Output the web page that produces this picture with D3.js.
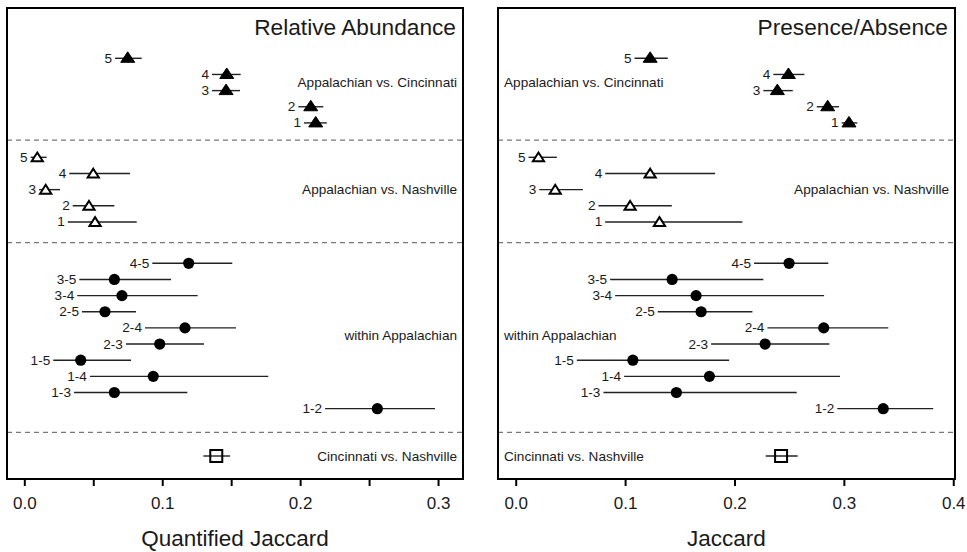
<!DOCTYPE html>
<html>
<head>
<meta charset="utf-8">
<script src="https://cdn.jsdelivr.net/npm/d3@7"></script>
<style>
  body { margin: 0; background: #fff; }
  text { font-family: "Liberation Sans", Arial, Helvetica, sans-serif; fill: #1a1a1a; }
</style>
</head>
<body>
<div id="chart"></div>
<script>
const width = 967, height = 552;

// groups, top to bottom
const groupNames = ["Appalachian vs. Cincinnati", "Appalachian vs. Nashville", "within Appalachian", "Cincinnati vs. Nashville"];
const rowLabels = ["5", "4", "3", "2", "1",
                   "5", "4", "3", "2", "1",
                   "4-5", "3-5", "3-4", "2-5", "2-4", "2-3", "1-5", "1-4", "1-3", "1-2",
                   ""];
const rowGroup = [0, 0, 0, 0, 0, 1, 1, 1, 1, 1, 2, 2, 2, 2, 2, 2, 2, 2, 2, 2, 3];

// Relative Abundance (Quantified Jaccard)
const raEst = [0.0750, 0.1468, 0.1463, 0.2077, 0.2113,
               0.0094, 0.0500, 0.0155, 0.0469, 0.0513,
               0.1192, 0.0653, 0.0708, 0.0585, 0.1165, 0.0982, 0.0409, 0.0935, 0.0653, 0.2560,
               0.1392];
const raLow = [0.0658, 0.1361, 0.1361, 0.1987, 0.2028,
               0.0046, 0.0326, 0.0107, 0.0351, 0.0315,
               0.0928, 0.0399, 0.0384, 0.0418, 0.0875, 0.0737, 0.0210, 0.0476, 0.0360, 0.2181,
               0.1298];
const raHigh = [0.0851, 0.1569, 0.1564, 0.2168, 0.2193,
                0.0162, 0.0767, 0.0259, 0.0653, 0.0815,
                0.1508, 0.1064, 0.1257, 0.0810, 0.1535, 0.1303, 0.0774, 0.1769, 0.1182, 0.2978,
                0.1492];

// Presence/Absence (Jaccard)
const paEst = [0.1229, 0.2493, 0.2392, 0.2852, 0.3047,
               0.0208, 0.1229, 0.0361, 0.1046, 0.1314,
               0.2499, 0.1430, 0.1649, 0.1695, 0.2816, 0.2280, 0.1071, 0.1771, 0.1469, 0.3360,
               0.2426];
const paLow = [0.1086, 0.2355, 0.2264, 0.2752, 0.2980,
               0.0117, 0.0818, 0.0215, 0.0757, 0.0818,
               0.2179, 0.0863, 0.0909, 0.1299, 0.2301, 0.1786, 0.0559, 0.0991, 0.0802, 0.2940,
               0.2286];
const paHigh = [0.1390, 0.2639, 0.2533, 0.2956, 0.3123,
                0.0376, 0.1823, 0.0614, 0.1427, 0.2072,
                0.2858, 0.2264, 0.2819, 0.2164, 0.3406, 0.2867, 0.1951, 0.2965, 0.2569, 0.3817,
                0.2578];

const raTicks = [0, 0.05, 0.1, 0.15, 0.2, 0.25, 0.3];
const paTicks = [0, 0.1, 0.2, 0.3, 0.4];

// vertical slot of every row: step 1 inside a group, wider gap between groups
const groupGap = [2.13, 2.56, 2.93];
const slots = [];
let s = 0;
rowGroup.forEach((g, i) => {
  if (i > 0) s += (g !== rowGroup[i - 1]) ? groupGap[g - 1] : 1;
  slots.push(s);
});

const plotTop = 8, plotBottom = 479;
const y = d3.scaleLinear().domain([0, slots[slots.length - 1]]).range([58.3, 456]);

const panels = [
  { title: "Relative Abundance", xTitle: "Quantified Jaccard", left: 7, right: 463,
    domain: [-0.01255, 0.3181], ticks: raTicks, est: raEst, low: raLow, high: raHigh,
    anchors: ["end", "end", "end", "end"] },
  { title: "Presence/Absence", xTitle: "Jaccard", left: 498, right: 955,
    domain: [-0.0162, 0.4016], ticks: paTicks, est: paEst, low: paLow, high: paHigh,
    anchors: ["start", "end", "start", "start"] }
];

const svg = d3.select("#chart")
  .append("svg")
  .attr("width", width)
  .attr("height", height);

svg.append("rect").attr("width", width).attr("height", height).attr("fill", "#fff");

const triangle = "M0,-6.5L7,4L-7,4Z";
const openTriangle = "M0,-4.8L5.6,4L-5.6,4Z";
const square = "M-6,-6H6V6H-6Z";

panels.forEach(p => {
  const x = d3.scaleLinear().domain(p.domain).range([p.left, p.right]);
  const g = svg.append("g");

  // dashed separators halfway between groups
  const breaks = [];
  for (let i = 1; i < rowGroup.length; i++) {
    if (rowGroup[i] !== rowGroup[i - 1]) breaks.push((slots[i] + slots[i - 1]) / 2);
  }
  g.append("g")
    .selectAll("line")
    .data(breaks)
    .join("line")
    .attr("x1", p.left).attr("x2", p.right)
    .attr("y1", d => y(d)).attr("y2", d => y(d))
    .attr("stroke", "#777")
    .attr("stroke-width", 1.3)
    .attr("stroke-dasharray", "5,4");

  // group labels
  g.append("g")
    .selectAll("text")
    .data(groupNames)
    .join("text")
    .attr("x", (d, i) => p.anchors[i] === "end" ? p.right - 6 : p.left + 6)
    .attr("y", (d, i) => {
      const sl = slots.filter((v, j) => rowGroup[j] === i);
      let mid = (sl[0] + sl[sl.length - 1]) / 2;
      if (i === 0) mid -= 0.5;
      return y(mid);
    })
    .attr("text-anchor", (d, i) => p.anchors[i])
    .attr("dominant-baseline", "central")
    .style("font-size", "13.6px")
    .text(d => d);

  const rows = rowLabels.map((lab, i) => ({
    lab, g: rowGroup[i], slot: slots[i], est: p.est[i], low: p.low[i], high: p.high[i]
  }));

  // confidence intervals
  g.append("g")
    .selectAll("line")
    .data(rows)
    .join("line")
    .attr("x1", d => x(d.low)).attr("x2", d => x(d.high))
    .attr("y1", d => y(d.slot)).attr("y2", d => y(d.slot))
    .attr("stroke", "#222")
    .attr("stroke-width", 1.4);

  // row labels
  g.append("g")
    .selectAll("text")
    .data(rows)
    .join("text")
    .attr("x", d => x(d.low) - 3)
    .attr("y", d => y(d.slot))
    .attr("text-anchor", "end")
    .attr("dominant-baseline", "central")
    .style("font-size", "13.6px")
    .text(d => d.lab);

  // markers
  g.append("g")
    .selectAll("path")
    .data(rows.filter(d => d.g !== 2))
    .join("path")
    .attr("transform", d => `translate(${x(d.est)},${y(d.slot)})`)
    .attr("d", d => d.g === 0 ? triangle : d.g === 1 ? openTriangle : square)
    .attr("fill", d => d.g === 0 ? "#000" : d.g === 1 ? "#fff" : "none")
    .attr("stroke", "#000")
    .attr("stroke-width", d => d.g === 0 ? 1 : 2)
    .attr("stroke-linejoin", "miter");

  g.append("g")
    .selectAll("circle")
    .data(rows.filter(d => d.g === 2))
    .join("circle")
    .attr("cx", d => x(d.est))
    .attr("cy", d => y(d.slot))
    .attr("r", 5.6)
    .attr("fill", "#000");

  // frame
  g.append("rect")
    .attr("x", p.left).attr("y", plotTop)
    .attr("width", p.right - p.left).attr("height", plotBottom - plotTop)
    .attr("fill", "none")
    .attr("stroke", "#000")
    .attr("stroke-width", 2);

  // axis
  const axis = g.append("g")
    .attr("transform", `translate(0,${plotBottom})`)
    .call(d3.axisBottom(x)
      .tickValues(p.ticks)
      .tickSize(7)
      .tickPadding(11)
      .tickFormat(d => Math.abs(Math.round(d * 10) - d * 10) < 1e-9 ? d3.format(".1f")(d) : ""));
  axis.select(".domain").remove();
  axis.selectAll(".tick line").attr("stroke", "#000").attr("stroke-width", 2);
  axis.selectAll(".tick text")
    .attr("fill", "#1a1a1a")
    .style("font-size", "17px")
    .style("font-family", "'Liberation Sans', Arial, sans-serif");

  // titles
  g.append("text")
    .attr("x", p.right - 7)
    .attr("y", 35)
    .attr("text-anchor", "end")
    .style("font-size", "22.7px")
    .text(p.title);

  g.append("text")
    .attr("x", (p.left + p.right) / 2)
    .attr("y", 546)
    .attr("text-anchor", "middle")
    .style("font-size", "22.5px")
    .text(p.xTitle);
});
</script>
</body>
</html>
